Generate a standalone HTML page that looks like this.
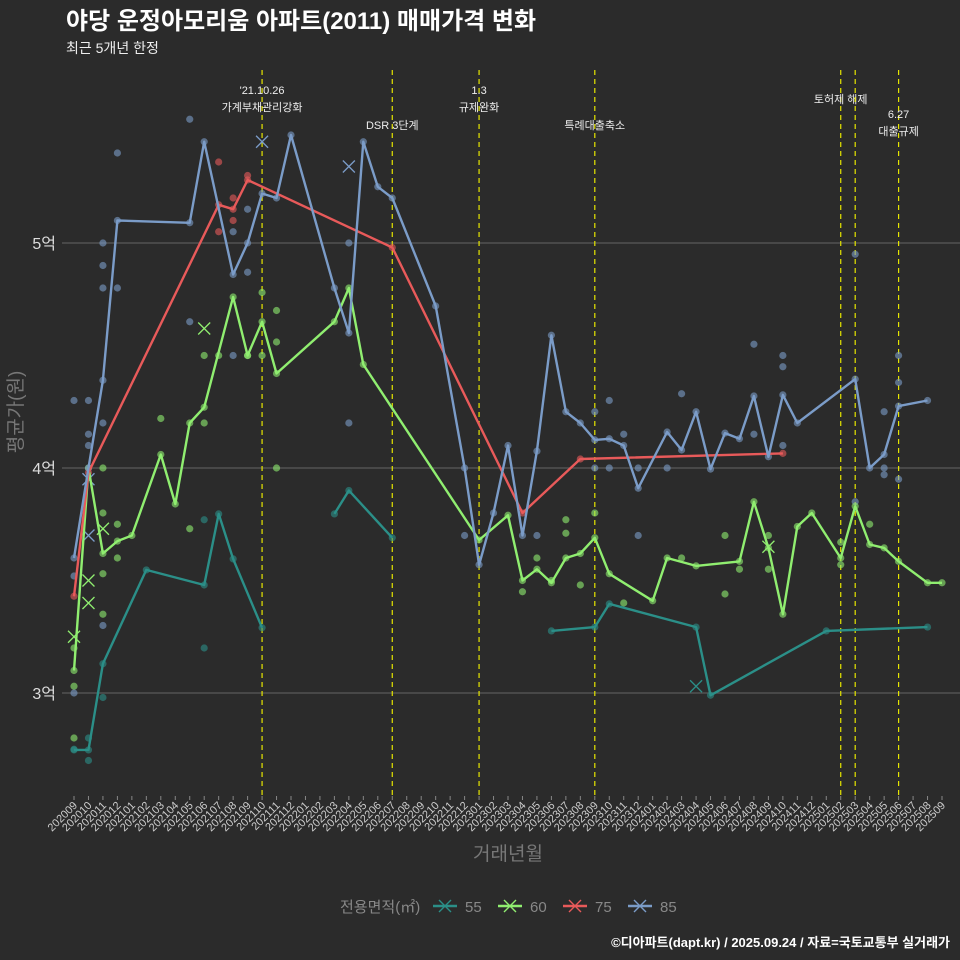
<!DOCTYPE html>
<html><head><meta charset="utf-8"><style>
html,body{margin:0;padding:0;background:#2b2b2b;}
svg{display:block;font-family:"Liberation Sans","Noto Sans CJK KR",sans-serif;}
</style></head><body>
<svg id="c" width="960" height="960" viewBox="0 0 960 960">
<rect width="960" height="960" fill="#2b2b2b"/>
<text x="66" y="29" font-size="24" font-weight="bold" fill="#ffffff">야당 운정아모리움 아파트(2011) 매매가격 변화</text>
<text x="66" y="53" font-size="14" fill="#eeeeee">최근 5개년 한정</text>
<g id="grid"></g>
<g id="vlines"></g>
<g id="dots"></g>
<g id="lines"></g>
<g id="xticks"></g>
<g id="yticks"></g>
<text transform="translate(22,412) rotate(-90)" text-anchor="middle" font-size="19" fill="#777">평균가(원)</text>
<text x="508" y="860" text-anchor="middle" font-size="19" fill="#777">거래년월</text>
<g id="legend"></g>
<text x="950" y="947" text-anchor="end" font-size="13" font-weight="bold" fill="#ffffff">©디아파트(dapt.kr) / 2025.09.24 / 자료=국토교통부 실거래가</text>
</svg>
<script>
const months=[];for(let y=2020,m=9;!(y===2025&&m===10);){months.push(''+y+(m<10?'0':'')+m);m++;if(m>12){m=1;y++;}}
const yTicks=[3,4,5];
const yTickLabels=['3억','4억','5억'];
const seriesNames=['55','60','75','85'];
const seriesColors=['#2b8f88','#90ee70','#e85a5a','#7b9cc8'];
const s55=[[0,2.747],[1,2.747],[2,3.13],[5,3.547],[9,3.48],[10,3.796],[11,3.596],[13,3.29],null,[18,3.796],[19,3.9],[22,3.69],null,[33,3.276],[36,3.293],[37,3.396],[43,3.293],[44,2.99],[52,3.276],[59,3.293]];
const s60=[[0,3.1],[1,4.0],[2,3.62],[3,3.675],[4,3.7],[6,4.06],[7,3.84],[8,4.2],[9,4.27],[11,4.76],[12,4.5],[13,4.65],[14,4.42],[18,4.65],[19,4.8],[20,4.46],[28,3.68],[30,3.79],[31,3.5],[32,3.55],[33,3.49],[34,3.6],[35,3.62],[36,3.69],[37,3.53],[40,3.41],[41,3.6],[43,3.565],[46,3.585],[47,3.85],[48,3.645],[49,3.35],[50,3.74],[51,3.8],[53,3.6],[54,3.83],[55,3.66],[56,3.645],[57,3.585],[59,3.49],[60,3.49]];
const s75=[[0,3.43],[1,3.98],[10,5.17],[11,5.15],[12,5.28],[22,4.98],[31,3.8],[35,4.04],[49,4.065]];
const s85=[[0,3.6],[1,4.0],[2,4.39],[3,5.1],[8,5.09],[9,5.45],[11,4.86],[12,5.0],[13,5.22],[14,5.2],[15,5.48],[18,4.8],[19,4.6],[20,5.45],[21,5.25],[22,5.2],[25,4.72],[27,4.0],[28,3.57],[29,3.8],[30,4.1],[31,3.7],[32,4.075],[33,4.59],[34,4.25],[35,4.2],[36,4.125],[37,4.13],[38,4.1],[39,3.91],[41,4.16],[42,4.08],[43,4.25],[44,3.995],[45,4.155],[46,4.13],[47,4.32],[48,4.05],[49,4.325],[50,4.2],[54,4.395],[55,4.0],[56,4.06],[57,4.275],[59,4.3]];
const seriesData=[s55,s60,s75,s85];
const extraDots=[[0,2.75,0],[1,2.7,0],[1,2.8,0],[2,2.98,0],[9,3.2,0],[9,3.77,0],[0,2.8,1],[0,3.03,1],[0,3.2,1],[2,3.35,1],[2,3.53,1],[2,3.8,1],[3,3.6,1],[3,3.75,1],[2,4.0,1],[6,4.22,1],[8,3.73,1],[9,4.5,1],[9,4.2,1],[10,4.5,1],[12,4.5,1],[13,4.78,1],[13,4.5,1],[14,4.7,1],[14,4.56,1],[14,4.0,1],[33,3.5,1],[34,3.71,1],[34,3.77,1],[36,3.8,1],[35,3.48,1],[31,3.45,1],[32,3.6,1],[38,3.4,1],[42,3.6,1],[45,3.44,1],[45,3.7,1],[46,3.55,1],[48,3.7,1],[48,3.55,1],[53,3.67,1],[53,3.57,1],[55,3.75,1],[10,5.36,2],[11,5.2,2],[11,5.1,2],[10,5.05,2],[12,5.3,2],[0,3.52,3],[0,3.0,3],[0,4.3,3],[1,4.3,3],[1,4.15,3],[1,4.1,3],[2,4.2,3],[2,4.8,3],[2,4.9,3],[2,5.0,3],[2,3.3,3],[3,5.4,3],[3,4.8,3],[8,5.55,3],[8,4.65,3],[11,4.5,3],[11,5.05,3],[12,4.87,3],[12,5.15,3],[19,5.0,3],[19,4.2,3],[27,3.7,3],[32,3.7,3],[36,4.0,3],[36,4.25,3],[37,4.0,3],[37,4.3,3],[38,4.15,3],[39,4.0,3],[39,3.7,3],[41,4.0,3],[42,4.33,3],[47,4.55,3],[47,4.15,3],[49,4.45,3],[49,4.5,3],[49,4.1,3],[54,4.95,3],[54,3.85,3],[56,4.0,3],[56,3.97,3],[56,4.25,3],[57,4.5,3],[57,4.38,3],[57,3.95,3]];
const crosses=[[0,3.25,1],[1,3.5,1],[1,3.4,1],[2,3.73,1],[1,3.7,3],[1,3.95,3],[9,4.62,1],[13,5.45,3],[19,5.34,3],[43,3.03,0],[48,3.65,1]];
const events=[[13,"'21.10.26|가계부채관리강화",94],[22,"DSR 3단계",129],[28,"1.3|규제완화",94],[36,"특례대출축소",129],[53,"토허제 해제",103],[54,"",0],[57,"6.27|대출규제",118]];
const NS='http://www.w3.org/2000/svg';
const X=i=>74+i*(868/60);
const Y=v=>468-(v-4)*225;
function mk(tag,attrs,parent){const e=document.createElementNS(NS,tag);for(const k in attrs)e.setAttribute(k,attrs[k]);parent.appendChild(e);return e;}
const g=id=>document.getElementById(id);
yTicks.forEach((t,k)=>{
 const l=mk('line',{x1:62,x2:960,y1:Y(t),y2:Y(t),stroke:'#5a5a5a','stroke-width':1.2},g('grid'));
 
 
 const tx=mk('text',{x:56,y:Y(t)+6,'text-anchor':'end','font-size':16,fill:'#dddddd'},g('yticks'));
 tx.textContent=yTickLabels[k];
 
 
});
months.forEach((m,i)=>{
 const x=X(i);
 mk('line',{x1:x,x2:x,y1:796,y2:800,stroke:'#888'},g('xticks'));
 const t=mk('text',{transform:`translate(${x+4},${806}) rotate(-45)`,'text-anchor':'end','font-size':11,fill:'#cccccc'},g('xticks'));
 t.textContent=m;
 
 
});
events.forEach(ev=>{
 const x=X(ev[0]);
 const l=mk('line',{x1:x,x2:x,y1:70,y2:796,stroke:'#e6e600','stroke-width':1.2,'stroke-dasharray':'5,4'},g('vlines'));
 
 
 if(ev[1]){ev[1].split('|').forEach((s,k)=>{
  const t=mk('text',{x:x,y:ev[2]+k*17,'text-anchor':'middle','font-size':11,fill:'#eeeeee'},g('vlines'));
  t.textContent=s;
  
  
 });}
});
extraDots.concat(...seriesData.map((s,k)=>s.filter(p=>p).map(p=>[p[0],p[1],k]))).forEach(d=>{
 const c=mk('circle',{cx:X(d[0]),cy:Y(d[1]),r:3.6,fill:seriesColors[d[2]],opacity:0.6},g('dots'));
 
 
});
crosses.forEach(d=>{
 const x=X(d[0]),y=Y(d[1]),s=6;
 const p=mk('path',{d:`M${x-s},${y-s}L${x+s},${y+s}M${x-s},${y+s}L${x+s},${y-s}`,stroke:seriesColors[d[2]],'stroke-width':1.3,fill:'none'},g('dots'));
 
 
});
seriesData.forEach((s,k)=>{
 let d='',pen=false;
 s.forEach(pt=>{if(!pt){pen=false;return;}d+=(pen?'L':'M')+X(pt[0]).toFixed(1)+','+Y(pt[1]).toFixed(1);pen=true;});
 const p=mk('path',{d:d,stroke:seriesColors[k],'stroke-width':2.4,fill:'none','stroke-linejoin':'round'},g('lines'));
 
 
});
const lt=mk('text',{x:340,y:912,'font-size':15,fill:'#888'},g('legend'));
lt.textContent='전용면적(㎡)';


const lx=[445,510,575,640];
seriesNames.forEach((n,k)=>{
 const x=lx[k],y=906;
 const gg=mk('g',{},g('legend'));
 
 
 mk('line',{x1:x-12,x2:x+12,y1:y,y2:y,stroke:seriesColors[k],'stroke-width':2.4},gg);
 mk('path',{d:`M${x-6},${y-6}L${x+6},${y+6}M${x-6},${y+6}L${x+6},${y-6}`,stroke:seriesColors[k],'stroke-width':1.4},gg);
 const t=mk('text',{x:x+20,y:y+6,'font-size':15,fill:'#888'},gg);t.textContent=n;
});
</script>
</body></html>
